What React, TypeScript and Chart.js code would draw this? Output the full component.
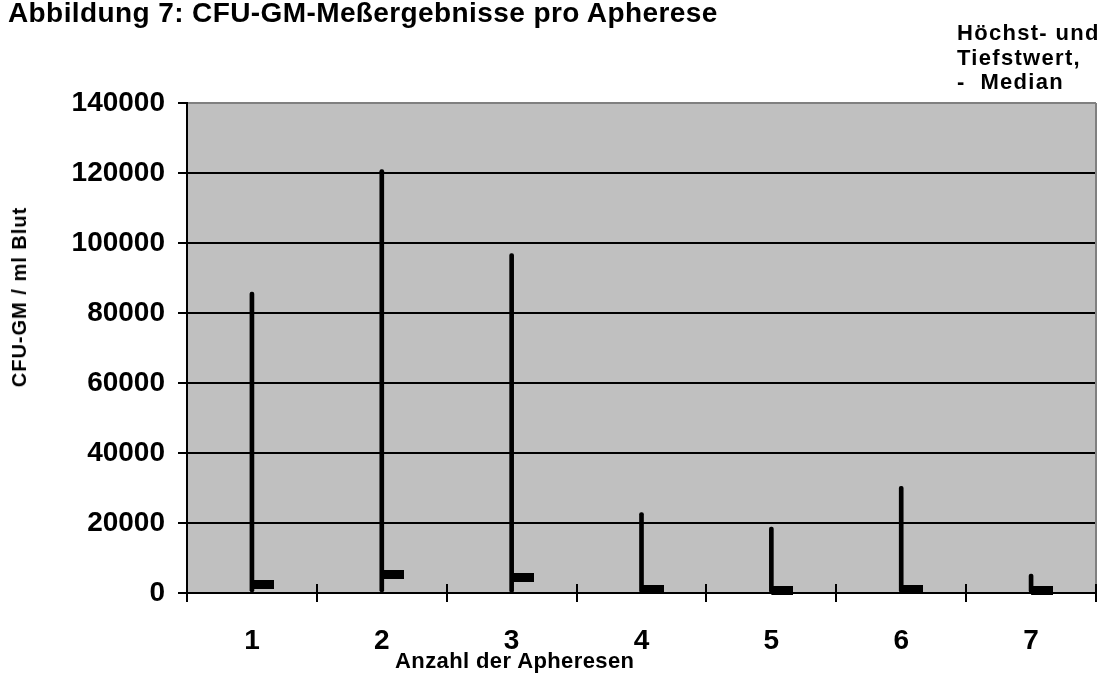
import React, { useEffect, useRef } from "react";
import { Chart, registerables } from "chart.js";

Chart.register(...registerables);

const categories = ["1", "2", "3", "4", "5", "6", "7"];
const highValues = [86000, 121000, 97000, 23000, 18800, 30500, 5400];
const lowValues = [300, 300, 200, 100, 100, 200, 100];
const medianValues = [2300, 5400, 4300, 1100, 600, 1000, 700];
const yTickValues = [0, 20000, 40000, 60000, 80000, 100000, 120000, 140000];

const titleText = "Abbildung 7: CFU-GM-Meßergebnisse pro Apherese";
const yTitleText = "CFU-GM / ml Blut";
const xTitleText = "Anzahl der Apheresen";
const legendLines = ["Höchst- und", "Tiefstwert,", "-  Median"];

const FONT = "'Liberation Sans', Arial, Helvetica, sans-serif";

const plotFrame = {
  id: "plotFrame",
  beforeDraw(chart: any) {
    const { ctx, chartArea: a } = chart;
    ctx.save();
    ctx.fillStyle = "#C0C0C0";
    ctx.fillRect(a.left, a.top, a.right - a.left, a.bottom - a.top);
    ctx.restore();
  },
  beforeDatasetsDraw(chart: any) {
    const { ctx, chartArea: a } = chart;
    ctx.save();
    ctx.strokeStyle = "#808080";
    ctx.lineWidth = 2;
    ctx.beginPath();
    ctx.moveTo(a.right, a.top);
    ctx.lineTo(a.right, a.bottom);
    ctx.stroke();
    // category boundary tick marks reaching slightly above the x axis
    const xs = chart.scales.x;
    const n = categories.length;
    const step = xs.getPixelForValue(1) - xs.getPixelForValue(0);
    ctx.strokeStyle = "#000000";
    ctx.lineWidth = 2;
    ctx.beginPath();
    for (let i = 1; i <= n; i++) {
      const px = Math.round(xs.getPixelForValue(i) - step / 2);
      ctx.moveTo(px, a.bottom - 9);
      ctx.lineTo(px, a.bottom);
    }
    ctx.stroke();
    ctx.restore();
  },
};

function makeMedianMarker(): HTMLCanvasElement {
  const c = document.createElement("canvas");
  c.width = 44;
  c.height = 9;
  const g = c.getContext("2d")!;
  g.fillStyle = "#000000";
  g.fillRect(22, 0, 22, 9);
  return c;
}

const textBase: React.CSSProperties = {
  position: "absolute",
  fontFamily: FONT,
  fontWeight: "bold",
  color: "#000000",
  whiteSpace: "pre",
};

export default function App() {
  const canvasRef = useRef<HTMLCanvasElement | null>(null);

  useEffect(() => {
    if (!canvasRef.current) return;
    const marker = makeMedianMarker();
    const chart = new Chart(canvasRef.current, {
      type: "bar",
      data: {
        labels: categories,
        datasets: [
          {
            type: "line",
            label: "Median",
            data: medianValues,
            showLine: false,
            pointStyle: marker as any,
            pointRadius: 3,
            clip: false as any,
            order: 0,
          },
          {
            type: "bar",
            label: "Höchst- und Tiefstwert",
            data: lowValues.map((l, i) => [l, highValues[i]]) as any,
            backgroundColor: "#000000",
            borderWidth: 0,
            barThickness: 4,
            borderRadius: 2,
            borderSkipped: false,
            order: 1,
          },
        ],
      },
      options: {
        responsive: false,
        animation: false,
        layout: { padding: { left: 8, right: 13, top: 103, bottom: 0 } },
        plugins: {
          legend: { display: false },
          tooltip: { enabled: false },
          title: { display: false },
        },
        scales: {
          x: {
            type: "category",
            offset: true,
            afterFit(scale: any) {
              scale.height = 82;
            },
            grid: {
              offset: true,
              drawOnChartArea: false,
              drawTicks: true,
              tickLength: 9,
              color: "#000000",
              lineWidth: 2,
            },
            border: { color: "#000000", width: 2 },
            ticks: {
              color: "#000000",
              padding: 22,
              font: { family: FONT, size: 28, weight: "bold" },
            },
          },
          y: {
            min: 0,
            max: 140000,
            afterFit(scale: any) {
              scale.width = 179;
            },
            afterBuildTicks(scale: any) {
              scale.ticks = yTickValues.map((v) => ({ value: v }));
            },
            grid: {
              color: (ctx: any) =>
                ctx.tick && ctx.tick.value === 140000 ? "#808080" : "#000000",
              tickColor: "#000000",
              lineWidth: 2,
              tickLength: 9,
            },
            border: { color: "#000000", width: 2 },
            ticks: {
              color: "#000000",
              padding: 13,
              font: { family: FONT, size: 28, weight: "bold" },
              callback: (v: any) => String(v),
            },
          },
        },
      },
      plugins: [plotFrame],
    });
    return () => chart.destroy();
  }, []);

  return (
    <div
      style={{
        position: "fixed",
        left: 0,
        top: 0,
        width: 1109,
        height: 675,
        background: "#FFFFFF",
        overflow: "hidden",
      }}
    >
      <canvas ref={canvasRef} width={1109} height={675} style={{ display: "block" }} />
      <div
        style={{
          ...textBase,
          left: 8,
          top: -1,
          fontSize: 28,
          lineHeight: "28px",
          letterSpacing: "0.4px",
        }}
      >
        {titleText}
      </div>
      <div
        style={{
          ...textBase,
          left: 957,
          top: 21,
          fontSize: 22,
          lineHeight: "24.5px",
          letterSpacing: "1.3px",
        }}
      >
        {legendLines.map((t) => (
          <div key={t}>{t}</div>
        ))}
      </div>
      <div
        style={{
          ...textBase,
          left: 395,
          top: 649,
          fontSize: 22,
          lineHeight: "24px",
          letterSpacing: "0.4px",
        }}
      >
        {xTitleText}
      </div>
      <div
        style={{
          ...textBase,
          left: 19,
          top: 297,
          fontSize: 20,
          lineHeight: "22px",
          letterSpacing: "1px",
          transform: "translate(-50%, -50%) rotate(-90deg)",
        }}
      >
        {yTitleText}
      </div>
    </div>
  );
}
